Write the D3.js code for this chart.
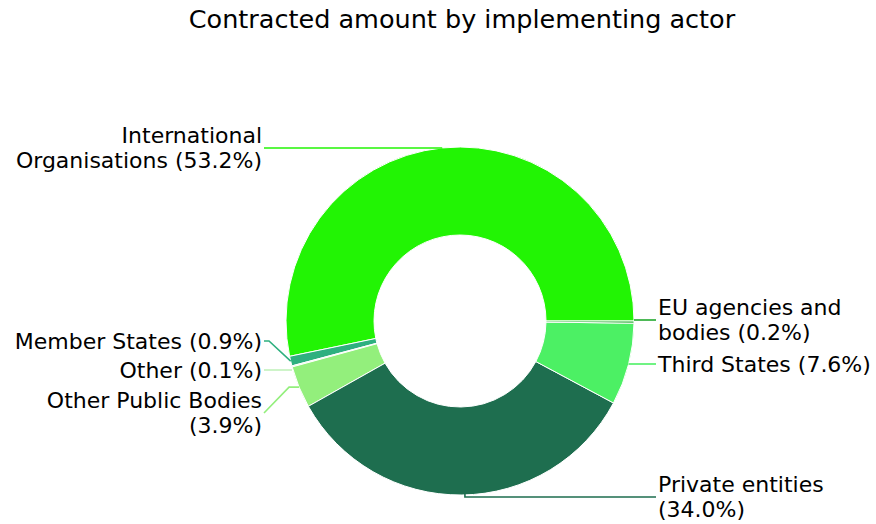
<!DOCTYPE html>
<html>
<head>
<meta charset="utf-8">
<script src="https://cdn.jsdelivr.net/npm/d3@7"></script>
<style>
  html, body { margin: 0; padding: 0; background: #fff; }
  svg { display: block; font-family: "DejaVu Sans", sans-serif; }
</style>
</head>
<body>
<svg id="chart" width="876" height="524"></svg>
<script>
// Contracted amount (share, %) per implementing actor
const categories = [
  "International Organisations",
  "Member States",
  "Other",
  "Other Public Bodies",
  "Private entities",
  "Third States",
  "EU agencies and bodies"
];
const shares = [53.2, 0.9, 0.1, 3.9, 34.0, 7.6, 0.2];
const colors = ["#22f404", "#2eb07f", "#c2f2bc", "#93ef7c", "#1e6e4f", "#4cf064", "#21a82c"];

// Label placement: side, vertical centre of the label block and connector bend
const labelLayout = {
  "International Organisations": { side: -1, y: 148, bend: "none" },
  "Member States":               { side: -1, y: 341, bend: "label" },
  "Other":                       { side: -1, y: 370, bend: "none" },
  "Other Public Bodies":         { side: -1, y: 413, bend: "anchor" },
  "Private entities":            { side: 1,  y: 497, bend: "vertical" },
  "Third States":                { side: 1,  y: 364, bend: "none" },
  "EU agencies and bodies":      { side: 1,  y: 320, bend: "none" }
};

const W = 876, H = 524;
const cx = 460, cy = 321, rOuter = 174, rInner = 86;
const leftTextX = 262, rightTextX = 658;
const lineH = 25, wrapWidth = 254;

const data = categories.map((c, i) => ({ name: c, value: shares[i], color: colors[i] }));

const svg = d3.select("#chart");

svg.append("text")
  .attr("x", 462).attr("y", 28)
  .attr("text-anchor", "middle")
  .attr("font-size", 25.5)
  .attr("fill", "#000")
  .text("Contracted amount by implementing actor");

// Wedges start at 3 o'clock and run counter-clockwise
const pie = d3.pie().value(d => d.value).sort(null)
  .startAngle(Math.PI / 2).endAngle(Math.PI / 2 - 2 * Math.PI);
const arcs = pie(data);
const arc = d3.arc().innerRadius(rInner).outerRadius(rOuter);

const g = svg.append("g").attr("transform", `translate(${cx},${cy})`);
g.selectAll("path.slice").data(arcs).join("path")
  .attr("class", "slice")
  .attr("d", arc)
  .attr("fill", d => d.data.color)
  .attr("stroke", "#fff")
  .attr("stroke-width", 1);

// Connectors and labels
const labels = svg.append("g");
arcs.forEach(a => {
  const lay = labelLayout[a.data.name];
  const mid = (a.startAngle + a.endAngle) / 2;
  const ax = cx + rOuter * Math.sin(mid);
  const ay = cy - rOuter * Math.cos(mid);
  const ex = lay.side < 0 ? leftTextX + 2 : rightTextX - 2;
  const ly = lay.y;
  let pts;
  if (lay.bend === "label") pts = [[ax, ay], [ex - 5 * lay.side, ly], [ex, ly]];
  else if (lay.bend === "anchor") pts = [[ax, ay], [ax + 10 * lay.side, ay], [ex, ly]];
  else if (lay.bend === "vertical") pts = [[ax + 3, ay - 2], [ax + 3, ly], [ex, ly]];
  else pts = [[ax, ly], [ex, ly]];
  labels.append("path")
    .attr("d", d3.line()(pts))
    .attr("fill", "none")
    .attr("stroke", a.data.color)
    .attr("stroke-width", 1.6);

  // Label text, wrapped to the available width
  const full = `${a.data.name} (${a.data.value.toFixed(1)}%)`;
  const t = labels.append("text")
    .attr("font-size", 22)
    .attr("fill", "#000")
    .attr("text-anchor", lay.side < 0 ? "end" : "start");
  const words = full.split(" ");
  const lines = [];
  let cur = [];
  const probe = labels.append("text").attr("font-size", 22);
  words.forEach(w => {
    const trial = cur.concat([w]).join(" ");
    probe.text(trial);
    if (cur.length && probe.node().getComputedTextLength() > wrapWidth) {
      lines.push(cur.join(" "));
      cur = [w];
    } else cur.push(w);
  });
  lines.push(cur.join(" "));
  probe.remove();
  const x = lay.side < 0 ? leftTextX : rightTextX;
  const top = ly - (lines.length - 1) * lineH / 2;
  lines.forEach((ln, i) => {
    t.append("tspan")
      .attr("x", x)
      .attr("y", top + i * lineH)
      .attr("dominant-baseline", "central")
      .text(ln);
  });
});
</script>
</body>
</html>
